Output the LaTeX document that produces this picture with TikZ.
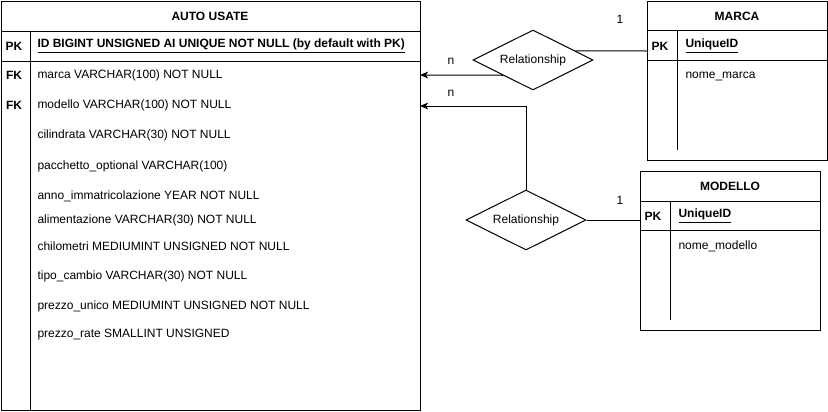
\documentclass[tikz,border=0pt]{standalone}
\usepackage{fontspec}
\setmainfont{Liberation Sans}
\usetikzlibrary{shapes.geometric,calc,arrows.meta}

\tikzset{
  field/.style={anchor=west,inner sep=0pt,font=\fontsize{9}{11}\selectfont},
  key/.style={inner sep=0pt,font=\fontsize{9}{11}\selectfont\bfseries},
  keyfield/.style={field,font=\fontsize{9}{11}\selectfont\bfseries},
  relation/.style={draw,diamond,aspect=2,inner sep=0pt,minimum width=90pt,minimum height=45pt,font=\fontsize{9}{11}\selectfont},
  card/.style={inner sep=0pt,font=\fontsize{9}{11}\selectfont},
  many/.style={-{Stealth[length=6pt,width=5pt,inset=1.5pt]}}
}

\begin{document}
\begin{tikzpicture}[x=0.75pt,y=-0.75pt,line width=0.75pt]
      \useasboundingbox (0,0) rectangle (828,411);
      % AUTO USATE
      \draw (1,1) rectangle (420,410);
      \draw (1,31) -- (420,31);
      \draw (1,61) -- (420,61);
      \draw (30,31) -- (30,410);
      \node[key] (auto) at (210,16) {AUTO USATE};
      \node[key] (pkid) at (14,46) {PK};
      \node[keyfield] (id) at (37,46) {\underline{ID BIGINT UNSIGNED AI UNIQUE NOT NULL (by default with PK)}};
      \node[key] (fkmarca) at (14,75) {FK};
      \node[field] (marca) at (37,75) {marca VARCHAR(100) NOT NULL};
      \node[key] (fkmodello) at (14,105) {FK};
      \node[field] (modello) at (37,105) {modello VARCHAR(100) NOT NULL};
      \node[field] (cilindrata) at (37,135) {cilindrata VARCHAR(30) NOT NULL};
      \node[field] (pacchetto) at (37,166) {pacchetto\_optional VARCHAR(100)};
      \node[field] (anno) at (37,196) {anno\_immatricolazione YEAR NOT NULL};
      \node[field] (alimentazione) at (37,220) {alimentazione VARCHAR(30) NOT NULL};
      \node[field] (chilometri) at (37,246) {chilometri MEDIUMINT UNSIGNED NOT NULL};
      \node[field] (cambio) at (37,276) {tipo\_cambio VARCHAR(30) NOT NULL};
      \node[field] (unico) at (37,306) {prezzo\_unico MEDIUMINT UNSIGNED NOT NULL};
      \node[field] (rate) at (37,335) {prezzo\_rate SMALLINT UNSIGNED};
      \coordinate (in1) at (420,75);
      \coordinate (in2) at (420,106);

      % MARCA
      \draw (647,1) rectangle (827,160);
      \draw (647,30) -- (827,30);
      \draw (647,60) -- (827,60);
      \draw (677,30) -- (677,150);
      \node[key] (marcat) at (737,16) {MARCA};
      \node[key] (pkmarca) at (660,46) {PK};
      \node[keyfield] (idmarca) at (685,46) {\underline{UniqueID}};
      \node[field] (nomemarca) at (685,76) {nome\_marca};
      \coordinate (marcapk) at (647,51);

      % MODELLO
      \draw (640,171) rectangle (820,330);
      \draw (640,201) -- (820,201);
      \draw (640,230) -- (820,230);
      \draw (670,201) -- (670,320);
      \node[key] (modellot) at (730,186) {MODELLO};
      \node[key] (pkmodello) at (653,216) {PK};
      \node[keyfield] (idmodello) at (678,216) {\underline{UniqueID}};
      \node[field] (nomemodello) at (678,246) {nome\_modello};
      \coordinate (modellopk) at (640,220);

      % relationships
      \node[relation] (rel1) at (533,60) {Relationship};
      \node[relation] (rel2) at (526,220) {Relationship};
      \draw[many] (rel1.south west) -- (in1);
      \draw ($(rel1.north east)!0.4!(rel1.east)$) -- (marcapk);
      \draw[many] (rel2.north) |- (in2);
      \draw (rel2.east) -- (modellopk);
      \node[card] (n1) at (451,61) {n};
      \node[card] (n2) at (451,93) {n};
      \node[card] (one1) at (620,19) {1};
      \node[card] (one2) at (620,200) {1};
    \end{tikzpicture}
\end{document}
